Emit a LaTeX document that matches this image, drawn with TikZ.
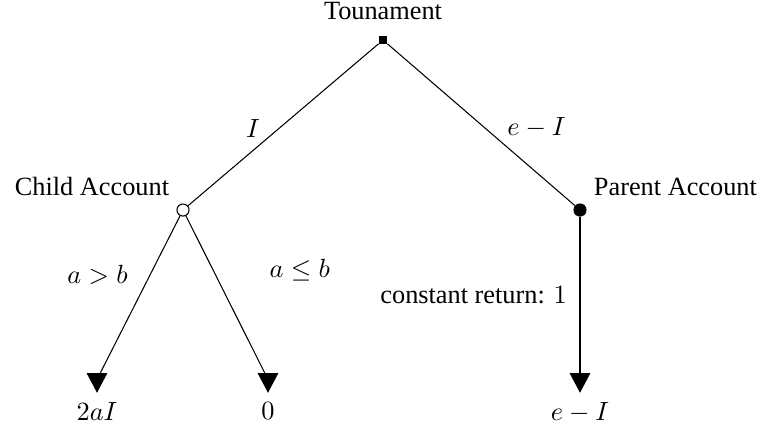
\documentclass[tikz,border=0pt]{standalone}
\usepackage{fontspec}
\setmainfont{Liberation Serif}
\usepackage{tikz}
\usetikzlibrary{shapes.geometric,arrows.meta,positioning}
\tikzstyle{decision} = [rectangle, draw=black, fill=black, inner sep=0pt, minimum size=3pt]
\tikzstyle{chance} = [circle, draw=black, fill=white, inner sep=0pt, minimum size=4.6pt]
\tikzstyle{player} = [circle, draw=black, fill=black, inner sep=0pt, minimum size=4.6pt]
\tikzstyle{outcome} = [isosceles triangle, isosceles triangle stretches, draw=black, fill=black, inner sep=0pt, minimum width=7.2pt, minimum height=6.8pt, rotate=-90, anchor=apex]
\tikzstyle{payoff} = [anchor=north, inner sep=3.33pt]

\begin{document}
\begin{tikzpicture}[x=0.38pt, y=-0.38pt, font=\rmfamily]
                \useasboundingbox (0,0) rectangle (763,427);
                \node[decision, label={[label distance=2.6pt]above:Tounament}] (root) at (383,40) {};
                \node[chance, label={[label distance=0pt]above left:Child Account}] (child) at (183,210) {};
                \node[player, label={[label distance=0pt]above right:Parent Account}] (parent) at (580,210) {};

                \node[outcome] (o1) at (97,393) {};
                \node[outcome] (o2) at (268,393) {};
                \node[outcome] (o3) at (580,393) {};
                \node[payoff] (p1) at (97,393) {$2aI$};
                \node[payoff] (p2) at (268,393) {$0$};
                \node[payoff] (p3) at (580,393) {$e-I$};

                \draw (root) -- node[pos=0.52, left=4pt] {$I$} (child);
                \draw (root) -- node[pos=0.52, right=5pt] {$e-I$} (parent);
                \draw (child) -- node[pos=0.36, left=5pt] {$a>b$} (o1.center);
                \draw (child) -- node[pos=0.33, right=18pt] {$a\leq b$} (o2.center);
                \draw (parent) -- node[pos=0.48, left=1.5pt] {constant return: $1$} (o3.center);
            \end{tikzpicture}
\end{document}
